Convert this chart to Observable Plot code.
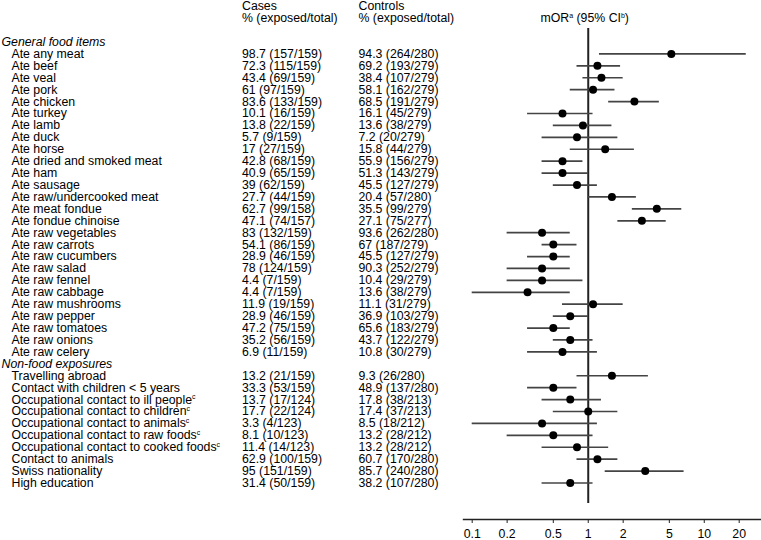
<!DOCTYPE html>
<html>
<head>
<meta charset="utf-8">
<script src="https://cdn.jsdelivr.net/npm/d3@7"></script>
<script src="https://cdn.jsdelivr.net/npm/@observablehq/plot@0.6"></script>
<style>
  html, body { margin: 0; padding: 0; background: #fff; }
  #chart svg { display: block; }
</style>
</head>
<body>
<div id="chart"></div>
<script>
// ---- data ----
const sectionTitles = ["General food items", "Non-food exposures"];

const foodLabels = [
  "Ate any meat", "Ate beef", "Ate veal", "Ate pork", "Ate chicken", "Ate turkey",
  "Ate lamb", "Ate duck", "Ate horse", "Ate dried and smoked meat", "Ate ham",
  "Ate sausage", "Ate raw/undercooked meat", "Ate meat fondue", "Ate fondue chinoise",
  "Ate raw vegetables", "Ate raw carrots", "Ate raw cucumbers", "Ate raw salad",
  "Ate raw fennel", "Ate raw cabbage", "Ate raw mushrooms", "Ate raw pepper",
  "Ate raw tomatoes", "Ate raw onions", "Ate raw celery"
];
const foodCases = [
  "98.7 (157/159)", "72.3 (115/159)", "43.4 (69/159)", "61 (97/159)", "83.6 (133/159)",
  "10.1 (16/159)", "13.8 (22/159)", "5.7 (9/159)", "17 (27/159)", "42.8 (68/159)",
  "40.9 (65/159)", "39 (62/159)", "27.7 (44/159)", "62.7 (99/158)", "47.1 (74/157)",
  "83 (132/159)", "54.1 (86/159)", "28.9 (46/159)", "78 (124/159)", "4.4 (7/159)",
  "4.4 (7/159)", "11.9 (19/159)", "28.9 (46/159)", "47.2 (75/159)", "35.2 (56/159)",
  "6.9 (11/159)"
];
const foodControls = [
  "94.3 (264/280)", "69.2 (193/279)", "38.4 (107/279)", "58.1 (162/279)", "68.5 (191/279)",
  "16.1 (45/279)", "13.6 (38/279)", "7.2 (20/279)", "15.8 (44/279)", "55.9 (156/279)",
  "51.3 (143/279)", "45.5 (127/279)", "20.4 (57/280)", "35.5 (99/279)", "27.1 (75/277)",
  "93.6 (262/280)", "67 (187/279)", "45.5 (127/279)", "90.3 (252/279)", "10.4 (29/279)",
  "13.6 (38/279)", "11.1 (31/279)", "36.9 (103/279)", "65.6 (183/279)", "43.7 (122/279)",
  "10.8 (30/279)"
];
const foodOR = [5.2, 1.2, 1.3, 1.1, 2.5, 0.6, 0.9, 0.8, 1.4, 0.6, 0.6, 0.8, 1.6, 3.9, 2.9,
  0.4, 0.5, 0.5, 0.4, 0.4, 0.3, 1.1, 0.7, 0.5, 0.7, 0.6];
const foodLo = [1.25, 0.8, 0.9, 0.7, 1.5, 0.3, 0.5, 0.4, 0.7, 0.4, 0.4, 0.5, 1.0, 2.4, 1.8,
  0.2, 0.4, 0.3, 0.2, 0.2, 0.1, 0.6, 0.5, 0.3, 0.5, 0.3];
const foodHi = [23, 1.9, 2.0, 1.7, 4.1, 1.1, 1.6, 1.8, 2.5, 0.9, 1.0, 1.2, 2.6, 6.4, 4.7,
  0.7, 0.8, 0.7, 0.7, 0.9, 0.7, 2.0, 1.0, 0.7, 1.1, 1.2];

const nonFoodLabels = [
  "Travelling abroad", "Contact with children < 5 years",
  "Occupational contact to ill people^c", "Occupational contact to children^c",
  "Occupational contact to animals^c", "Occupational contact to raw foods^c",
  "Occupational contact to cooked foods^c", "Contact to animals",
  "Swiss nationality", "High education"
];
const nonFoodCases = [
  "13.2 (21/159)", "33.3 (53/159)", "13.7 (17/124)", "17.7 (22/124)", "3.3 (4/123)",
  "8.1 (10/123)", "11.4 (14/123)", "62.9 (100/159)", "95 (151/159)", "31.4 (50/159)"
];
const nonFoodControls = [
  "9.3 (26/280)", "48.9 (137/280)", "17.8 (38/213)", "17.4 (37/213)", "8.5 (18/212)",
  "13.2 (28/212)", "13.2 (28/212)", "60.7 (170/280)", "85.7 (240/280)", "38.2 (107/280)"
];
const nonFoodOR = [1.6, 0.5, 0.7, 1.0, 0.4, 0.5, 0.8, 1.2, 3.1, 0.7];
const nonFoodLo = [0.8, 0.3, 0.4, 0.5, 0.1, 0.2, 0.4, 0.8, 1.4, 0.4];
const nonFoodHi = [3.3, 0.8, 1.3, 1.8, 1.2, 1.1, 1.5, 1.8, 6.7, 1.1];

const headerCases = ["Cases", "% (exposed/total)"];
const headerControls = ["Controls", "% (exposed/total)"];
const headerOR = "mOR^a (95% CI^b)";
const xTicks = [0.1, 0.2, 0.5, 1, 2, 5, 10, 20];

// ---- build rows ----
const rows = [];
const headRows = [{key: "_h1"}, {key: "_h2"}, {key: "_gap"}];
rows.push({key: "s0", label: sectionTitles[0], section: true});
foodLabels.forEach((l, i) => rows.push({key: "f" + i, label: l, cases: foodCases[i], controls: foodControls[i], or: foodOR[i], lo: foodLo[i], hi: foodHi[i]}));
rows.push({key: "s1", label: sectionTitles[1], section: true});
nonFoodLabels.forEach((l, i) => rows.push({key: "n" + i, label: l, cases: nonFoodCases[i], controls: nonFoodControls[i], or: nonFoodOR[i], lo: nonFoodLo[i], hi: nonFoodHi[i]}));

const domainY = [...headRows.map(d => d.key), ...rows.map(d => d.key)];
const items = rows.filter(d => !d.section);
const sections = rows.filter(d => d.section);
const headerData = [
  {key: "_h1", cases: headerCases[0], controls: headerControls[0]},
  {key: "_h2", cases: headerCases[1], controls: headerControls[1], or: headerOR}
];

const ML = 463;
const FS = 12.3;

const chart = Plot.plot({
  width: 761,
  height: 540,
  marginLeft: ML,
  marginRight: 1,
  marginTop: 28,
  marginBottom: 21,
  style: {fontFamily: "'Liberation Sans', Arial, Helvetica, sans-serif", fontSize: FS + "px", color: "#000", background: "#fff"},
  x: {type: "log", domain: [0.1, 20], range: [471.7, 738.7]},
  y: {type: "point", domain: domainY, range: [5.74, 482.5], padding: 0, axis: null},
  marks: [
    Plot.frame({anchor: "bottom", stroke: "#222", strokeWidth: 1.4}),
    Plot.axisX({ticks: xTicks, tickFormat: d => String(d), tickSize: 4, tickPadding: 6, label: null, fontSize: FS, stroke: "#222"}),
    Plot.ruleX([1], {stroke: "#222", strokeWidth: 2, insetBottom: 16}),
    Plot.ruleY(items, {y: "key", x1: "lo", x2: "hi", stroke: "#444", strokeWidth: 1.7}),
    Plot.dot(items, {x: "or", y: "key", r: 4, fill: "#000", stroke: null}),
    // left labels
    Plot.text(sections, {y: "key", text: "label", frameAnchor: "left", textAnchor: "start", dx: 1 - ML, fontStyle: "italic"}),
    Plot.text(items, {y: "key", text: "label", frameAnchor: "left", textAnchor: "start", dx: 11 - ML}),
    Plot.text(items, {y: "key", text: "cases", frameAnchor: "left", textAnchor: "start", dx: 241.5 - ML}),
    Plot.text(items, {y: "key", text: "controls", frameAnchor: "left", textAnchor: "start", dx: 358 - ML}),
    // headers
    Plot.text(headerData, {y: "key", text: "cases", frameAnchor: "left", textAnchor: "start", dx: 241.5 - ML}),
    Plot.text(headerData, {y: "key", text: "controls", frameAnchor: "left", textAnchor: "start", dx: 358 - ML}),
    Plot.text(headerData.filter(d => d.or), {y: "key", text: "or", frameAnchor: "left", textAnchor: "start", dx: 540 - ML})
  ]
});

// superscripts: turn "^x" into raised small tspans
d3.select(chart).selectAll("text").each(function() {
  const el = this;
  const t = el.textContent;
  if (!t || t.indexOf("^") < 0) return;
  const parts = t.split(/\^(\w)/);
  el.textContent = "";
  parts.forEach((p, i) => {
    if (!p) return;
    const ts = document.createElementNS("http://www.w3.org/2000/svg", "tspan");
    ts.textContent = p;
    if (i % 2 === 1) {
      ts.setAttribute("font-size", "7px");
      ts.setAttribute("dy", "-4.5");
    } else if (i > 0) {
      ts.setAttribute("dy", "4.5");
    }
    el.appendChild(ts);
  });
});

document.getElementById("chart").appendChild(chart);
</script>
</body>
</html>
